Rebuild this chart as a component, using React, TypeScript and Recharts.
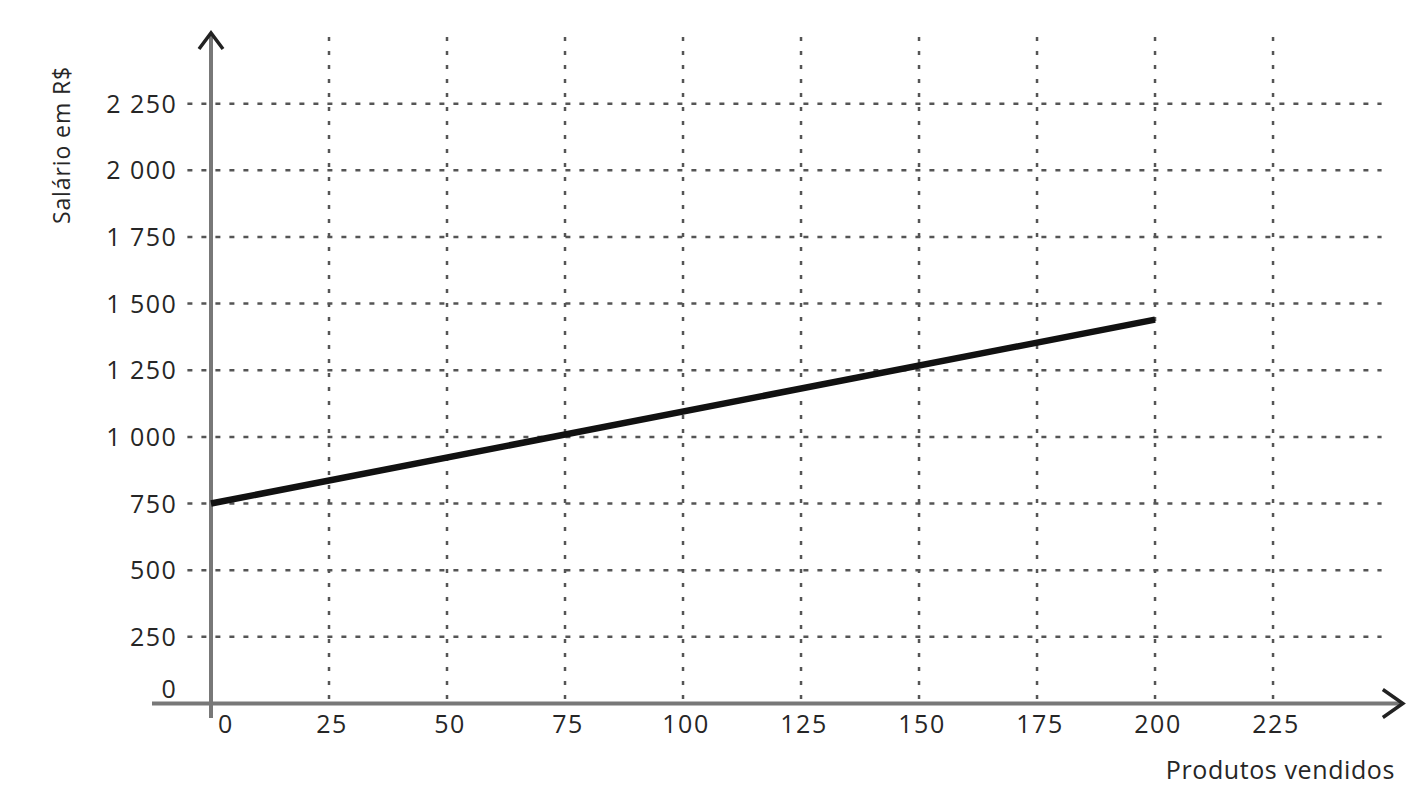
import React from "react";
import {
  ComposedChart,
  Line,
  XAxis,
  YAxis,
  CartesianGrid,
  ReferenceLine,
} from "recharts";

// ---- data ----
const produtosVendidos = [0, 200];
const salario = [750, 1440];
const xTicks = [0, 25, 50, 75, 100, 125, 150, 175, 200, 225];
const yTicks = [0, 250, 500, 750, 1000, 1250, 1500, 1750, 2000, 2250];
const yTickLabels = ["0", "250", "500", "750", "1 000", "1 250", "1 500", "1 750", "2 000", "2 250"];
const xAxisTitle = "Produtos vendidos";
const yAxisTitle = "Salário em R$";

const data = produtosVendidos.map((p, i) => ({ sold: p, salary: salario[i] }));

const FONT = "'Open Sans', 'DejaVu Sans', sans-serif";
const TEXT = "#262626";

const XTick = (props: any) => {
  const { x, y, payload } = props;
  const dx = payload.value === 0 ? 15 : 3;
  return (
    <text x={x + dx} y={y + 29} textAnchor="middle" fontFamily={FONT} fontSize={25} letterSpacing={1.5} fill={TEXT}>
      {String(payload.value)}
    </text>
  );
};

const YTick = (props: any) => {
  const { x, y, payload } = props;
  const idx = yTicks.indexOf(payload.value);
  const label = idx >= 0 ? yTickLabels[idx] : String(payload.value);
  const dy = payload.value === 0 ? -5.5 : 9;
  return (
    <text x={x - 10} y={y + dy} textAnchor="end" fontFamily={FONT} fontSize={25} letterSpacing={1.5} fill={TEXT}>
      {label}
    </text>
  );
};

const arrowShape = (armBack: number, armSpread: number) => (props: any) => {
  const { x1, y1, x2, y2 } = props;
  const ang = Math.atan2(y2 - y1, x2 - x1);
  const ux = Math.cos(ang);
  const uy = Math.sin(ang);
  const px = -uy;
  const py = ux;
  const ax = x2 - ux * armBack + px * armSpread;
  const ay = y2 - uy * armBack + py * armSpread;
  const bx = x2 - ux * armBack - px * armSpread;
  const by = y2 - uy * armBack - py * armSpread;
  return (
    <g>
      <line x1={x1} y1={y1} x2={x2 - ux * 2} y2={y2 - uy * 2} stroke="#787878" strokeWidth={4} />
      <polyline
        points={`${ax},${ay} ${x2},${y2} ${bx},${by}`}
        fill="none"
        stroke="#222"
        strokeWidth={3.5}
        strokeLinejoin="miter"
      />
    </g>
  );
};

export default function App() {
  return (
    <ComposedChart
      width={1406}
      height={784}
      data={data}
      margin={{ top: 29, right: 32.4, bottom: 58.5, left: 119.4 }}
    >
      <CartesianGrid
        vertical={false}
        stroke="#555"
        strokeWidth={2.5}
        strokeDasharray="5 9"
        syncWithTicks
      />
      <CartesianGrid
        horizontal={false}
        stroke="#555"
        strokeWidth={2.5}
        strokeDasharray="4 10"
        syncWithTicks
      />
      <XAxis
        dataKey="sold"
        type="number"
        domain={[-5, 248]}
        allowDataOverflow
        ticks={xTicks}
        axisLine={false}
        tickLine={false}
        tickSize={0}
        tickMargin={0}
        height={30}
        tick={<XTick />}
        interval={0}
      />
      <YAxis
        type="number"
        domain={[0, 2500]}
        allowDataOverflow
        ticks={yTicks}
        axisLine={false}
        tickLine={false}
        tickSize={0}
        tickMargin={0}
        width={60}
        tick={<YTick />}
        interval={0}
      />
      <ReferenceLine
        segment={[{ x: -12.5, y: 0 }, { x: 252.5, y: 0 }]}
        ifOverflow="visible"
        shape={arrowShape(20, 14)}
      />
      <ReferenceLine
        segment={[{ x: 0, y: -54 }, { x: 0, y: 2515 }]}
        ifOverflow="visible"
        shape={arrowShape(16, 12)}
      />
      <Line
        dataKey="salary"
        type="linear"
        stroke="#111"
        strokeWidth={6.5}
        dot={false}
        activeDot={false}
        isAnimationActive={false}
      />
      <text x={1387} y={771} textAnchor="end" fontFamily={FONT} fontSize={25} letterSpacing={0.6} fill={TEXT}>
        {xAxisTitle}
      </text>
      <text
        transform="translate(62,137) rotate(-90)"
        textAnchor="middle"
        fontFamily={FONT}
        fontSize={23}
        letterSpacing={0.9}
        fill={TEXT}
      >
        {yAxisTitle}
      </text>
    </ComposedChart>
  );
}
